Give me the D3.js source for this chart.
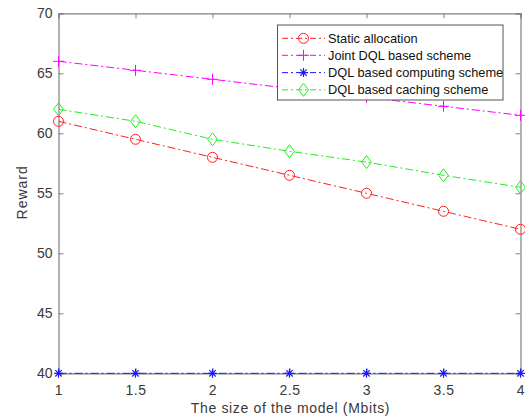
<!DOCTYPE html>
<html><head><meta charset="utf-8">
<script src="https://cdn.jsdelivr.net/npm/d3@7"></script>
<style>body{margin:0;background:#fff}svg{display:block}</style>
</head><body>
<script>
const xValues = [1, 1.5, 2, 2.5, 3, 3.5, 4];
const staticAlloc = [61, 59.5, 58, 56.5, 55, 53.5, 52];
const jointDQL = [66, 65.25, 64.5, 63.75, 63, 62.25, 61.5];
const dqlComputing = [40, 40, 40, 40, 40, 40, 40];
const dqlCaching = [62, 61, 59.5, 58.5, 57.6, 56.5, 55.5];
const xTicks = [1, 1.5, 2, 2.5, 3, 3.5, 4];
const yTicks = [40, 45, 50, 55, 60, 65, 70];
const seriesNames = ["Static allocation", "Joint DQL based scheme", "DQL based computing scheme", "DQL based caching scheme"];

const W = 525, H = 419;
const L = 58.5, R = 520.5, T = 13.3, B = 373.3;
const svg = d3.select("body").append("svg").attr("width", W).attr("height", H);
const x = d3.scaleLinear().domain([1, 4]).range([L, R]);
const y = d3.scaleLinear().domain([40, 70]).range([B, T]);
const axisColor = "#808080", textColor = "#3a3a3a";
const font = "'Liberation Sans', Arial, sans-serif";

svg.append("rect").attr("x", L).attr("y", T).attr("width", R - L).attr("height", B - T)
  .attr("fill", "#fff");

const series = [
  {name: seriesNames[0], vals: staticAlloc, color: "#ff2020", marker: "circle"},
  {name: seriesNames[1], vals: jointDQL, color: "#ff00ff", marker: "plus"},
  {name: seriesNames[2], vals: dqlComputing, color: "#1a1aff", marker: "star"},
  {name: seriesNames[3], vals: dqlCaching, color: "#22ee22", marker: "diamond"}
];

function drawMarker(g, type, cx, cy, color) {
  if (type === "circle") {
    g.append("circle").attr("cx", cx).attr("cy", cy).attr("r", 5)
      .attr("fill", "none").attr("stroke", color).attr("stroke-width", 1);
  } else if (type === "plus") {
    g.append("path").attr("d", `M${cx-5.5},${cy}H${cx+5.5}M${cx},${cy-5.5}V${cy+5.5}`)
      .attr("stroke", color).attr("stroke-width", 1).attr("fill", "none");
  } else if (type === "star") {
    const s = 4.5, d = 3.2;
    g.append("path").attr("d", `M${cx-s},${cy}H${cx+s}M${cx},${cy-s}V${cy+s}M${cx-d},${cy-d}L${cx+d},${cy+d}M${cx-d},${cy+d}L${cx+d},${cy-d}`)
      .attr("stroke", color).attr("stroke-width", 1.2).attr("fill", "none");
  } else if (type === "diamond") {
    const s = 6.5;
    g.append("path").attr("d", `M${cx},${cy-s}L${cx+s*0.75},${cy}L${cx},${cy+s}L${cx-s*0.75},${cy}Z`)
      .attr("stroke", color).attr("stroke-width", 1).attr("fill", "none");
  }
}

const dash = "8,3,2,3";
const line = d3.line().x((d, i) => x(xValues[i])).y(d => y(d));

// Axes box
const ax = svg.append("g");
const xAxis = d3.axisBottom(x).tickValues(xTicks).tickSize(-5).tickPadding(11.7).tickFormat(d3.format("~g"));
const yAxis = d3.axisLeft(y).tickValues(yTicks).tickSize(-5).tickPadding(6);
const gx = ax.append("g").attr("transform", `translate(0,${B})`).call(xAxis);
const gy = ax.append("g").attr("transform", `translate(${L},0)`).call(yAxis);
const gxt = ax.append("g").attr("transform", `translate(0,${T})`).call(d3.axisTop(x).tickValues(xTicks).tickSize(-5).tickFormat(""));
const gyr = ax.append("g").attr("transform", `translate(${R},0)`).call(d3.axisRight(y).tickValues(yTicks).tickSize(-5).tickFormat(""));
[gx, gy, gxt, gyr].forEach(g => {
  g.selectAll("path.domain").attr("stroke", axisColor).attr("stroke-width", 1.2);
  g.selectAll(".tick line").attr("stroke", axisColor);
  g.selectAll("text").attr("fill", textColor).style("font-family", font).style("font-size", "14px");
});
gx.selectAll("text").style("letter-spacing", "0.6px");

// Lines
const plot = svg.append("g");
series.forEach(s => {
  plot.append("path").datum(s.vals).attr("d", line).attr("fill", "none")
    .attr("stroke", s.color).attr("stroke-width", 1).attr("stroke-dasharray", dash);
  s.vals.forEach((v, i) => drawMarker(plot, s.marker, x(xValues[i]), y(v), s.color));
});

// Axis labels
svg.append("text").attr("x", (L + R) / 2 + 1).attr("y", 413).attr("text-anchor", "middle")
  .attr("fill", textColor).style("font-family", font).style("font-size", "14px").style("letter-spacing", "0.65px")
  .text("The size of the model (Mbits)");
svg.append("text").attr("transform", `translate(27.3,${(T + B) / 2 - 1}) rotate(-90)`).attr("text-anchor", "middle")
  .attr("fill", textColor).style("font-family", font).style("font-size", "14px").style("letter-spacing", "1px")
  .text("Reward");

// Legend
const lg = svg.append("g");
lg.append("rect").attr("x", 277.5).attr("y", 25).attr("width", 225.5).attr("height", 75)
  .attr("fill", "#fff").attr("stroke", "#555").attr("stroke-width", 1);
const rowY = [38.3, 55.3, 72.6, 89.8];
series.forEach((s, i) => {
  lg.append("line").attr("x1", 282).attr("x2", 325).attr("y1", rowY[i]).attr("y2", rowY[i])
    .attr("stroke", s.color).attr("stroke-width", 1).attr("stroke-dasharray", "6,3,2,3");
  drawMarker(lg, s.marker, 303.5, rowY[i], s.color);
  lg.append("text").attr("x", 328).attr("y", rowY[i]).attr("dy", "0.36em")
    .attr("fill", "#111").style("font-family", font).style("font-size", "12.8px").text(s.name);
});
</script>
</body></html>
